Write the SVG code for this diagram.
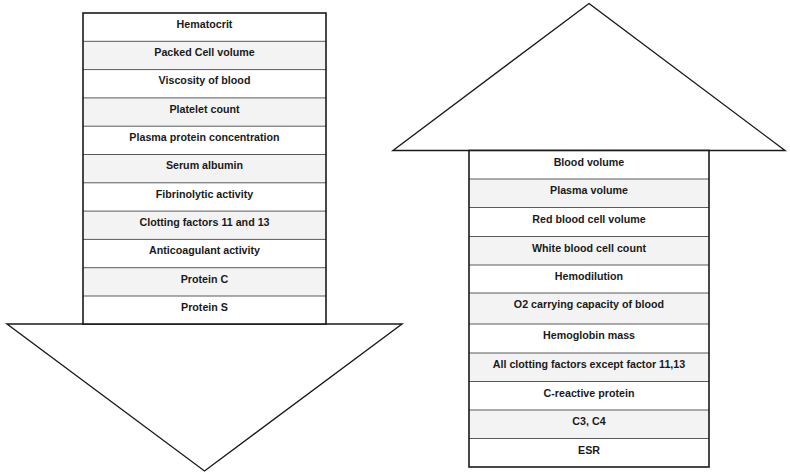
<svg xmlns="http://www.w3.org/2000/svg" width="790" height="474" viewBox="0 0 790 474">
<style>
.w{fill:#ffffff}
.g{fill:#f3f3f3}
.div{stroke:#5a5a5a;stroke-width:1;fill:none}
.out{fill:none;stroke:#1a1a1a;stroke-width:1.6;stroke-linejoin:miter}
.head{fill:#ffffff;stroke:#1a1a1a;stroke-width:1.4}
text{font-family:"Liberation Sans",Arial,sans-serif;font-weight:bold;font-size:10.7px;fill:#1a1a1a;text-anchor:middle}
</style>
<rect width="790" height="474" fill="#ffffff"/>

<g id="decrease-arrow">
  <polygon class="head" points="7,324 402,324 204.5,471"/>
  <g id="hematocrit"><rect class="w" x="83" y="13" width="243" height="28.3"/><text x="204.5" y="27.8">Hematocrit</text></g>
  <g id="packed-cell-volume"><rect class="g" x="83" y="41.3" width="243" height="28.3"/><text x="204.5" y="56.1">Packed Cell volume</text></g>
  <g id="viscosity"><rect class="w" x="83" y="69.6" width="243" height="28.3"/><text x="204.5" y="84.4">Viscosity of blood</text></g>
  <g id="platelet-count"><rect class="g" x="83" y="97.9" width="243" height="28.3"/><text x="204.5" y="112.7">Platelet count</text></g>
  <g id="plasma-protein"><rect class="w" x="83" y="126.2" width="243" height="28.3"/><text x="204.5" y="141">Plasma protein concentration</text></g>
  <g id="serum-albumin"><rect class="g" x="83" y="154.5" width="243" height="28.3"/><text x="204.5" y="169.3">Serum albumin</text></g>
  <g id="fibrinolytic"><rect class="w" x="83" y="182.8" width="243" height="28.3"/><text x="204.5" y="197.6">Fibrinolytic activity</text></g>
  <g id="clotting-11-13"><rect class="g" x="83" y="211.1" width="243" height="28.3"/><text x="204.5" y="225.9">Clotting factors 11 and 13</text></g>
  <g id="anticoagulant"><rect class="w" x="83" y="239.4" width="243" height="28.3"/><text x="204.5" y="254.2">Anticoagulant activity</text></g>
  <g id="protein-c"><rect class="g" x="83" y="267.7" width="243" height="28.3"/><text x="204.5" y="282.5">Protein C</text></g>
  <g id="protein-s"><rect class="w" x="83" y="296" width="243" height="28"/><text x="204.5" y="310.8">Protein S</text></g>
  <path class="div" d="M83,41.3H326M83,69.6H326M83,97.9H326M83,126.2H326M83,154.5H326M83,182.8H326M83,211.1H326M83,239.4H326M83,267.7H326M83,296H326"/>
  <rect class="out" x="83" y="13" width="243" height="311"/>
</g>

<g id="increase-arrow">
  <polygon class="head" points="589,3.5 785,150.5 393,150.5"/>
  <g id="blood-volume"><rect class="w" x="469" y="150.5" width="240" height="28.5"/><text x="589" y="165.5">Blood volume</text></g>
  <g id="plasma-volume"><rect class="g" x="469" y="179" width="240" height="28.5"/><text x="589" y="194">Plasma volume</text></g>
  <g id="rbc-volume"><rect class="w" x="469" y="207.5" width="240" height="29"/><text x="589" y="222.5">Red blood cell volume</text></g>
  <g id="wbc-count"><rect class="g" x="469" y="236.5" width="240" height="28.5"/><text x="589" y="251.5">White blood cell count</text></g>
  <g id="hemodilution"><rect class="w" x="469" y="265" width="240" height="28"/><text x="589" y="280">Hemodilution</text></g>
  <g id="o2-capacity"><rect class="g" x="469" y="293" width="240" height="31"/><text x="589" y="308">O2 carrying capacity of blood</text></g>
  <g id="hemoglobin-mass"><rect class="w" x="469" y="324" width="240" height="29"/><text x="589" y="339">Hemoglobin mass</text></g>
  <g id="all-clotting"><rect class="g" x="469" y="353" width="240" height="28.5"/><text x="589" y="368">All clotting factors except factor 11,13</text></g>
  <g id="c-reactive"><rect class="w" x="469" y="381.5" width="240" height="28.5"/><text x="589" y="396.5">C-reactive protein</text></g>
  <g id="c3-c4"><rect class="g" x="469" y="410" width="240" height="28.5"/><text x="589" y="425">C3, C4</text></g>
  <g id="esr"><rect class="w" x="469" y="438.5" width="240" height="28.5"/><text x="589" y="453.5">ESR</text></g>
  <path class="div" d="M469,179H709M469,207.5H709M469,236.5H709M469,265H709M469,293H709M469,324H709M469,353H709M469,381.5H709M469,410H709M469,438.5H709"/>
  <rect class="out" x="469" y="150.5" width="240" height="316.5"/>
</g>

<g id="connectors"></g>
</svg>
